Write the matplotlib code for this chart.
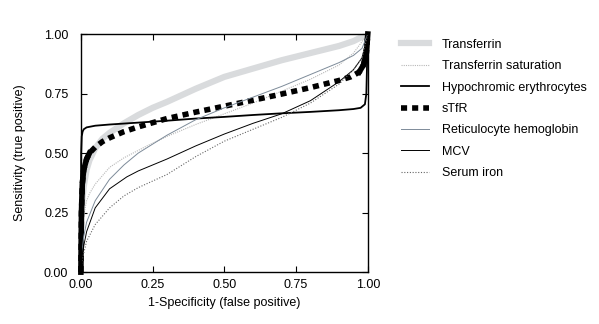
import numpy as np
import matplotlib.pyplot as plt

plt.rcParams['font.family'] = ['Liberation Sans', 'DejaVu Sans']
plt.rcParams['font.size'] = 9

# ROC curves (x = 1-specificity, y = sensitivity)
transferrin_x = [0, 0.005, 0.01, 0.02, 0.03, 0.05, 0.075, 0.1, 0.15, 0.2, 0.25, 0.3, 0.4, 0.5, 0.6, 0.7, 0.8, 0.9, 0.95, 1.0]
transferrin_y = [0.2, 0.3, 0.36, 0.43, 0.47, 0.52, 0.56, 0.585, 0.625, 0.66, 0.69, 0.715, 0.77, 0.82, 0.855, 0.89, 0.92, 0.95, 0.97, 1.0]

tsat_x = [0, 0.003, 0.01, 0.02, 0.03, 0.05, 0.1, 0.15, 0.23, 0.3, 0.4, 0.5, 0.6, 0.7, 0.8, 0.9, 0.95, 1.0]
tsat_y = [0, 0.15, 0.24, 0.3, 0.33, 0.37, 0.44, 0.48, 0.53, 0.57, 0.62, 0.665, 0.71, 0.76, 0.81, 0.87, 0.92, 1.0]

hypo_x = [0, 0.001, 0.003, 0.006, 0.01, 0.02, 0.05, 0.1, 0.2, 0.3, 0.4, 0.5, 0.6, 0.7, 0.8, 0.9, 0.95, 0.975, 0.99, 0.995, 1.0]
hypo_y = [0, 0.5, 0.57, 0.59, 0.60, 0.608, 0.615, 0.62, 0.628, 0.636, 0.645, 0.652, 0.66, 0.667, 0.673, 0.68, 0.685, 0.69, 0.705, 0.75, 1.0]

stfr_x = [0, 0.002, 0.005, 0.01, 0.02, 0.03, 0.05, 0.075, 0.1, 0.15, 0.2, 0.3, 0.4, 0.5, 0.6, 0.7, 0.8, 0.9, 0.94, 0.97, 0.985, 0.995, 1.0]
stfr_y = [0, 0.25, 0.37, 0.43, 0.475, 0.5, 0.525, 0.548, 0.564, 0.59, 0.61, 0.645, 0.672, 0.697, 0.722, 0.748, 0.775, 0.805, 0.82, 0.84, 0.87, 0.92, 1.0]

retic_x = [0, 0.003, 0.01, 0.02, 0.05, 0.1, 0.15, 0.2, 0.3, 0.4, 0.5, 0.6, 0.7, 0.8, 0.9, 0.95, 0.98, 1.0]
retic_y = [0, 0.08, 0.15, 0.21, 0.3, 0.39, 0.45, 0.5, 0.575, 0.64, 0.69, 0.735, 0.78, 0.83, 0.88, 0.91, 0.94, 1.0]

mcv_x = [0, 0.003, 0.01, 0.02, 0.05, 0.1, 0.16, 0.2, 0.3, 0.4, 0.5, 0.6, 0.7, 0.8, 0.9, 0.95, 0.98, 1.0]
mcv_y = [0, 0.06, 0.11, 0.17, 0.27, 0.35, 0.40, 0.425, 0.475, 0.53, 0.58, 0.625, 0.665, 0.72, 0.8, 0.85, 0.9, 1.0]

iron_x = [0, 0.003, 0.01, 0.02, 0.05, 0.1, 0.15, 0.2, 0.3, 0.4, 0.5, 0.6, 0.7, 0.8, 0.9, 0.95, 0.98, 1.0]
iron_y = [0, 0.04, 0.08, 0.13, 0.2, 0.27, 0.32, 0.355, 0.41, 0.485, 0.55, 0.6, 0.65, 0.71, 0.79, 0.85, 0.9, 1.0]

ticks = [0, 0.25, 0.5, 0.75, 1.0]

fig = plt.figure(figsize=(5.99, 3.24), dpi=100)
ax = fig.add_axes([0.135, 0.160, 0.479, 0.735])

ax.plot(transferrin_x, transferrin_y, color='#d9dbdd', lw=4.5, label='Transferrin')
ax.plot(tsat_x, tsat_y, color='#b8b8b8', lw=0.8, ls=(0, (1, 1)), label='Transferrin saturation')
ax.plot(hypo_x, hypo_y, color='black', lw=1.3, label='Hypochromic erythrocytes', clip_on=False)
ax.plot(stfr_x, stfr_y, color='black', lw=4, ls=(0, (1.1, 0.9)), label='sTfR', clip_on=False)
# steep ends of the sTfR curve look solid
ax.plot(stfr_x[:6], stfr_y[:6], color='black', lw=4, clip_on=False)
ax.plot(stfr_x[-4:], stfr_y[-4:], color='black', lw=4, clip_on=False)
ax.plot(retic_x, retic_y, color='#7d8b99', lw=0.7, label='Reticulocyte hemoglobin')
ax.plot(mcv_x, mcv_y, color='black', lw=0.7, label='MCV')
ax.plot(iron_x, iron_y, color='#666666', lw=0.8, ls=(0, (1, 1.5)), label='Serum iron')

ax.set_xlim(0, 1)
ax.set_ylim(0, 1)
ax.set_xticks(ticks)
ax.set_yticks(ticks)
ax.set_xticklabels(['%.2f' % t for t in ticks])
ax.set_yticklabels(['%.2f' % t for t in ticks])
ax.tick_params(direction='in', length=4, width=0.8, top=True, right=True)
ax.tick_params(axis='x', pad=5)
ax.tick_params(axis='y', pad=9)
for s in ax.spines.values():
    s.set_linewidth(1.0)

ax.set_xlabel('1-Specificity (false positive)', labelpad=4)
ax.set_ylabel('Sensitivity (true positive)', labelpad=13)

handles, labels = ax.get_legend_handles_labels()
fig.legend(handles, labels, loc='upper left', bbox_to_anchor=(0.650, 0.915),
           frameon=False, handlelength=2.3, handletextpad=1.0, labelspacing=0.75,
           fontsize=9)

fig.savefig('out.png', dpi=100)
